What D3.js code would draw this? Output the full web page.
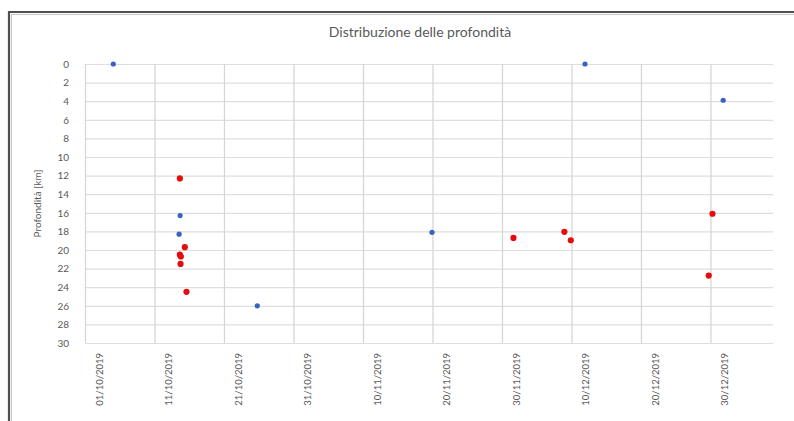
<!DOCTYPE html>
<html>
<head>
<meta charset="utf-8">
<script src="https://cdn.jsdelivr.net/npm/d3@7"></script>
<style>
  html, body { margin: 0; padding: 0; background: #fff; }
  svg { display: block; }
  text { font-family: Lato, "Open Sans", sans-serif; fill: #595959; }
</style>
</head>
<body>
<svg id="chart" width="794" height="421"></svg>
<script>
// Earthquake depth data (date/time of event, depth in km)
const blueDates  = ["2019-10-05T01:40", "2019-10-14T16:30", "2019-10-14T13:00", "2019-10-25T19:00",
                    "2019-11-19T22:20", "2019-12-11T22:50", "2019-12-31T20:00"];
const blueDepths = [0, 16.3, 18.3, 26.0, 18.1, 0, 3.9];

const redDates  = ["2019-10-14T15:30", "2019-10-15T08:40", "2019-10-14T15:30", "2019-10-14T19:00",
                   "2019-10-14T18:00", "2019-10-15T14:30", "2019-12-01T15:40", "2019-12-08T23:30",
                   "2019-12-09T21:40", "2019-12-30T07:00", "2019-12-29T18:00"];
const redDepths = [12.3, 19.7, 20.5, 20.7, 21.5, 24.5, 18.7, 18.05, 18.95, 16.1, 22.75];

const xTickLabels = ["01/10/2019", "11/10/2019", "21/10/2019", "31/10/2019", "10/11/2019",
                     "20/11/2019", "30/11/2019", "10/12/2019", "20/12/2019", "30/12/2019"];
const xDomain = ["01/10/2019", "08/01/2020"];
const yTicks = [0, 2, 4, 6, 8, 10, 12, 14, 16, 18, 20, 22, 24, 26, 28, 30];

const chartTitle = "Distribuzione delle profondità";
const yTitle = "Profondità [km]";

const parseTime = d3.timeParse("%Y-%m-%dT%H:%M");
const parseDay = d3.timeParse("%d/%m/%Y");

const svg = d3.select("#chart");
const plot = { left: 85, right: 773, top: 64, bottom: 343 };

const x = d3.scaleTime()
  .domain(xDomain.map(parseDay))
  .range([plot.left, plot.right]);
const y = d3.scaleLinear()
  .domain([0, 30])
  .range([plot.top, plot.bottom]);

// Outer frame (top and left edges)
svg.append("path")
  .attr("d", "M9,421 V12 H794")
  .attr("fill", "none")
  .attr("stroke", "#505050")
  .attr("stroke-width", 2.2);
svg.append("path")
  .attr("d", "M11.5,421 V14.5 H794")
  .attr("fill", "none")
  .attr("stroke", "#c8c8c8")
  .attr("stroke-width", 1);

// Title
svg.append("text")
  .attr("x", 420)
  .attr("y", 37)
  .attr("text-anchor", "middle")
  .style("font-size", "14px")
  .text(chartTitle);

// Horizontal gridlines + y tick labels
const yAxis = d3.axisLeft(y)
  .tickValues(yTicks)
  .tickSize(-(plot.right - plot.left))
  .tickPadding(16)
  .tickFormat(d3.format("d"));
const gy = svg.append("g")
  .attr("transform", `translate(${plot.left},0)`)
  .call(yAxis);
gy.select(".domain").remove();
gy.selectAll(".tick line").attr("stroke", "#dedede").attr("stroke-width", 1.2);
gy.selectAll(".tick text")
  .style("font-size", "10px")
  .style("font-family", "Lato, sans-serif")
  .attr("fill", "#595959");

// Vertical gridlines + rotated date labels
const xTickDates = xTickLabels.map(parseDay);
const xAxis = d3.axisBottom(x)
  .tickValues(xTickDates)
  .tickSize(-(plot.bottom - plot.top))
  .tickFormat(d3.timeFormat("%d/%m/%Y"));
const gx = svg.append("g")
  .attr("transform", `translate(0,${plot.bottom})`)
  .call(xAxis);
gx.select(".domain").remove();
gx.selectAll(".tick line").attr("stroke", "#d6d6d6").attr("stroke-width", 1.3);
gx.selectAll(".tick text")
  .style("font-size", "9.5px")
  .style("font-family", "Lato, sans-serif")
  .attr("fill", "#595959")
  .attr("text-anchor", "end")
  .attr("dominant-baseline", "central")
  .attr("transform", "translate(14,10) rotate(-90)")
  .attr("x", 0)
  .attr("y", 0)
  .attr("dy", null);

// Y axis title
svg.append("text")
  .attr("transform", `translate(37,${(plot.top + plot.bottom) / 2}) rotate(-90)`)
  .attr("text-anchor", "middle")
  .attr("dominant-baseline", "central")
  .style("font-size", "10px")
  .text(yTitle);

// Points
function drawSeries(dates, depths, color, r) {
  const pts = dates.map((d, i) => ({ t: parseTime(d), depth: depths[i] }));
  svg.append("g")
    .selectAll("circle")
    .data(pts)
    .join("circle")
    .attr("cx", d => x(d.t))
    .attr("cy", d => y(d.depth))
    .attr("r", r)
    .attr("fill", color);
}
drawSeries(blueDates, blueDepths, "#3864c0", 2.6);
drawSeries(redDates, redDepths, "#e30d0d", 3.1);
</script>
</body>
</html>
